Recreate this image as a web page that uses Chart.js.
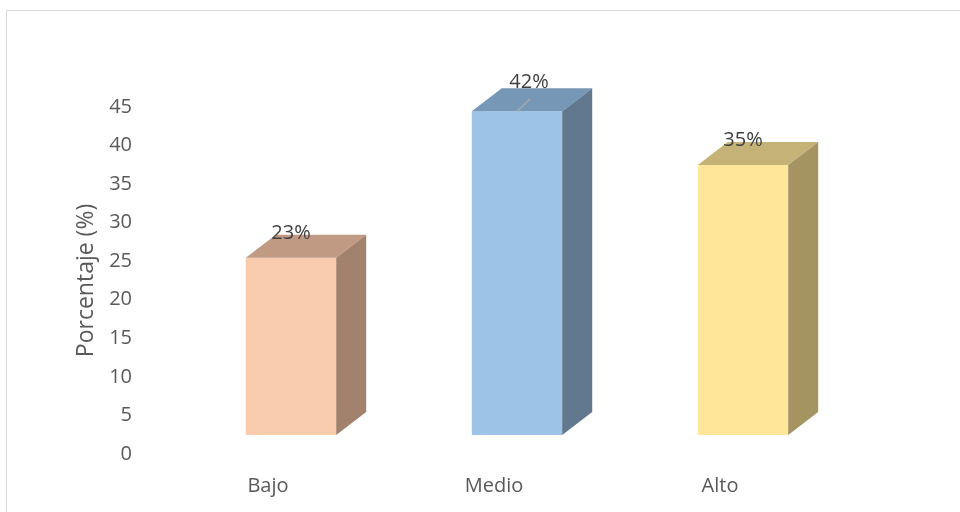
<!DOCTYPE html>
<html>
<head>
<meta charset="utf-8">
<script src="https://cdn.jsdelivr.net/npm/chart.js@4"></script>
<style>
  html, body { margin: 0; padding: 0; background: #fff; overflow: hidden; }
  #frame { position: absolute; left: 6px; top: 10px; width: 1000px; height: 600px; border: 1px solid #d9d9d9; }
  #chart { position: absolute; left: 0; top: 0; }
</style>
</head>
<body>
<div id="frame"></div>
<canvas id="chart" width="960" height="512"></canvas>
<script>
// data
var categories = ['Bajo', 'Medio', 'Alto'];
var percentages = [23, 42, 35];
var yTicks = [0, 5, 10, 15, 20, 25, 30, 35, 40, 45];

// front / top / side faces of each box
var frontColors = ['#F8CBAD', '#9DC3E6', '#FFE699'];
var topColors = ['#C09A83', '#7697B6', '#C5B277'];
var sideColors = ['#A3826D', '#61788F', '#A39461'];

// little 3d box look drawn around the normal chart.js bars
var box3d = {
    id: 'box3d',
    shift: { x: 23, y: -19 },
    depth: { x: 30, y: -23 },
    beforeDatasetsDraw: function (chart) {
        chart.ctx.save();
        chart.ctx.translate(this.shift.x, this.shift.y);
    },
    afterDatasetsDraw: function (chart) {
        var ctx = chart.ctx;
        var d = this.depth;
        chart.getDatasetMeta(0).data.forEach(function (bar, i) {
            var p = bar.getProps(['x', 'y', 'base', 'width'], true);
            var l = p.x - p.width / 2, r = p.x + p.width / 2;
            ctx.fillStyle = topColors[i];
            ctx.beginPath();
            ctx.moveTo(l, p.y);
            ctx.lineTo(r, p.y);
            ctx.lineTo(r + d.x, p.y + d.y);
            ctx.lineTo(l + d.x, p.y + d.y);
            ctx.closePath();
            ctx.fill();
            ctx.fillStyle = sideColors[i];
            ctx.beginPath();
            ctx.moveTo(r, p.y);
            ctx.lineTo(r + d.x, p.y + d.y);
            ctx.lineTo(r + d.x, p.base + d.y);
            ctx.lineTo(r, p.base);
            ctx.closePath();
            ctx.fill();
        });
        ctx.restore();
    },
    afterDraw: function (chart) {
        var ctx = chart.ctx;
        var s = this.shift;
        ctx.save();
        ctx.font = '20px "Open Sans"';
        ctx.fillStyle = '#404040';
        ctx.textAlign = 'center';
        ctx.textBaseline = 'alphabetic';
        chart.getDatasetMeta(0).data.forEach(function (bar, i) {
            var x = bar.x + s.x, top = bar.y + s.y;
            var y = top - 19;
            if (i === 1) {
                // this label was pulled aside in the original, with a leader line
                ctx.strokeStyle = '#A6A6A6';
                ctx.lineWidth = 1.5;
                ctx.beginPath();
                ctx.moveTo(x, top);
                ctx.lineTo(x + 13, top - 12);
                ctx.stroke();
                x += 12;
                y -= 4;
            }
            ctx.fillText(percentages[i] + '%', x, y);
        });
        ctx.restore();
    }
};

new Chart(document.getElementById('chart'), {
    type: 'bar',
    data: {
        labels: categories,
        datasets: [{
            data: percentages,
            backgroundColor: frontColors,
            borderWidth: 0,
            categoryPercentage: 1,
            barPercentage: 0.4,
            clip: false
        }]
    },
    options: {
        responsive: false,
        animation: false,
        layout: { padding: { left: 73, top: 107, right: 127, bottom: 0 } },
        plugins: {
            legend: { display: false },
            tooltip: { enabled: false }
        },
        scales: {
            x: {
                grid: { display: false, drawTicks: false },
                border: { display: false },
                ticks: { color: '#595959', font: { family: 'Open Sans', size: 20 }, padding: 20 },
                afterFit: function (axis) { axis.height = 58; }
            },
            y: {
                min: 0,
                max: 45,
                grid: { display: false, drawTicks: false },
                border: { display: false },
                afterBuildTicks: function (axis) {
                    axis.ticks = yTicks.map(function (v) { return { value: v }; });
                },
                ticks: { color: '#595959', font: { family: 'Open Sans', size: 20 }, padding: 23 },
                title: {
                    display: true,
                    text: 'Porcentaje (%)',
                    color: '#595959',
                    font: { family: 'Open Sans', size: 23, weight: 'normal' },
                    padding: 0
                },
                afterFit: function (axis) { axis.width = 82; }
            }
        }
    },
    plugins: [box3d]
});
</script>
</body>
</html>
